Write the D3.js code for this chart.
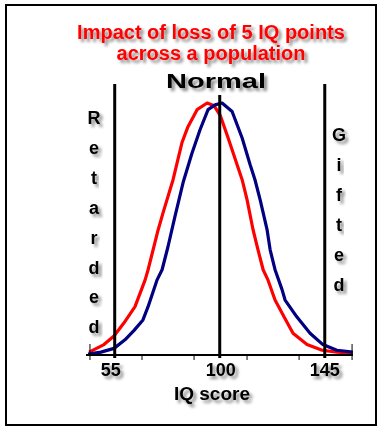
<!DOCTYPE html>
<html>
<head>
<meta charset="utf-8">
<script src="https://cdn.jsdelivr.net/npm/d3@7"></script>
<style>
  html, body { margin: 0; padding: 0; background: #fff; }
  svg { display: block; }
  text { font-family: "Liberation Sans", Arial, sans-serif; font-weight: bold; }
</style>
</head>
<body>
<script>
// ---- Data (frequency per 1000 people per IQ point) ----
const normalIQ   = [43.6, 49.1, 54.7, 59.4, 63.3, 67.1, 69.3, 73.1, 75.3, 77.8, 80.8, 84.3, 88.1, 91.6, 95.0, 98.0, 101.0, 105.3, 109.6, 113.0, 115.1, 117.3, 120.3, 121.6, 123.7, 126.7, 128.0, 133.1, 138.7, 144.2, 150.2, 157.0];
const normalFreq = [0.1, 0.3, 0.7, 1.6, 2.6, 3.7, 5.1, 7.9, 9.0, 11.4, 14.6, 18.2, 21.3, 23.8, 25.9, 26.4, 26.6, 25.7, 22.9, 20.1, 18.5, 16.4, 13.2, 11.1, 9.0, 6.9, 5.8, 4.0, 2.3, 1.1, 0.5, 0.3];

const loweredIQ   = [44.0, 50.4, 54.7, 59.0, 63.7, 68.0, 69.3, 73.6, 75.7, 80.0, 83.8, 86.4, 90.3, 94.6, 97.6, 100.2, 103.6, 109.6, 111.7, 114.3, 116.4, 118.6, 120.7, 123.7, 127.6, 131.4, 137.4, 143.9, 150.3, 157.0];
const loweredFreq = [0.3, 1.1, 2.0, 3.4, 5.1, 7.9, 9.0, 13.2, 15.0, 18.5, 22.4, 24.1, 25.9, 26.6, 26.3, 25.3, 22.9, 18.5, 16.4, 13.2, 11.1, 9.0, 7.9, 5.8, 4.0, 2.3, 1.1, 0.5, 0.3, 0.2];

const labelTicks = [55, 100, 145];
const minorTicks = [44.4, 66.7, 89.0, 111.7, 134.0, 156.7];
const endTicks   = [44.4, 156.7];

const titleLines = ["Impact of loss of 5 IQ points", "across a population"];
const leftWord  = "Retarded";
const rightWord = "Gifted";

// ---- Drawing ----
const W = 384, H = 433;
const svg = d3.select("body").append("svg").attr("width", W).attr("height", H);

const defs = svg.append("defs");
const f = defs.append("filter").attr("id", "shadow")
  .attr("x", "-20%").attr("y", "-30%").attr("width", "150%").attr("height", "180%");
f.append("feDropShadow").attr("dx", 3).attr("dy", 3).attr("stdDeviation", 1.5)
  .attr("flood-color", "#000").attr("flood-opacity", 0.45);

svg.append("rect").attr("width", W).attr("height", H).attr("fill", "#fff");
svg.append("rect").attr("x", 6).attr("y", 5).attr("width", 370).attr("height", 420)
  .attr("fill", "none").attr("stroke", "#000").attr("stroke-width", 2);

const x = d3.scaleLinear().domain([42.7, 157.1]).range([86, 353]);
const y = d3.scaleLinear().domain([0, 26.6]).range([355, 103]);

const line = d3.line().x(d => x(d[0])).y(d => y(d[1]));

const lowered = loweredIQ.map((v, i) => [v, loweredFreq[i]]);
const normal  = normalIQ.map((v, i) => [v, normalFreq[i]]);

svg.append("path").datum(lowered).attr("d", line)
  .attr("fill", "none").attr("stroke", "#ff0000").attr("stroke-width", 3.2).attr("stroke-linejoin", "round");
svg.append("path").datum(normal).attr("d", line)
  .attr("fill", "none").attr("stroke", "#000080").attr("stroke-width", 3.2).attr("stroke-linejoin", "round");

// axis line & ticks
svg.append("line").attr("x1", 86).attr("x2", 353).attr("y1", 355).attr("y2", 355)
  .attr("stroke", "#000").attr("stroke-width", 2);
svg.selectAll(".mt").data(minorTicks).enter().append("line")
  .attr("x1", d => x(d)).attr("x2", d => x(d)).attr("y1", 355).attr("y2", 360)
  .attr("stroke", "#000").attr("stroke-width", 1);
svg.selectAll(".et").data(endTicks).enter().append("line")
  .attr("x1", d => x(d)).attr("x2", d => x(d)).attr("y1", 344).attr("y2", 355)
  .attr("stroke", "#000").attr("stroke-width", 1);

// vertical reference lines
svg.selectAll(".vl").data(labelTicks).enter().append("line")
  .attr("x1", d => x(d)).attr("x2", d => x(d))
  .attr("y1", d => d === 100 ? 95 : 84).attr("y2", 358)
  .attr("stroke", "#000").attr("stroke-width", 3);

// tick labels
svg.selectAll(".tl").data(labelTicks).enter().append("text")
  .attr("x", d => x(d) + (d === 55 ? -4 : d === 100 ? 1 : 0)).attr("y", 376)
  .attr("text-anchor", "middle").attr("font-size", 18).attr("fill", "#000")
  .attr("filter", "url(#shadow)").text(d => d);

svg.append("text").attr("x", 212).attr("y", 400).attr("text-anchor", "middle")
  .attr("font-size", 19).attr("fill", "#000").attr("filter", "url(#shadow)").text("IQ score");

// title
svg.selectAll(".tt").data(titleLines).enter().append("text")
  .attr("x", 211).attr("y", (d, i) => 39 + i * 21)
  .attr("text-anchor", "middle").attr("font-size", 20).attr("fill", "#ff0000")
  .attr("filter", "url(#shadow)").text(d => d);

// Normal
svg.append("text").attr("x", 216).attr("y", 88).attr("text-anchor", "middle")
  .attr("font-size", 20).attr("fill", "#000")
  .attr("textLength", 100).attr("lengthAdjust", "spacingAndGlyphs")
  .attr("filter", "url(#shadow)").text("Normal");

// vertical words
svg.selectAll(".lw").data(leftWord.split("")).enter().append("text")
  .attr("x", 94).attr("y", (d, i) => 124 + i * 29.9)
  .attr("text-anchor", "middle").attr("font-size", 18).attr("fill", "#000")
  .attr("filter", "url(#shadow)").text(d => d);
svg.selectAll(".rw").data(rightWord.split("")).enter().append("text")
  .attr("x", 339).attr("y", (d, i) => 141 + i * 30)
  .attr("text-anchor", "middle").attr("font-size", 18).attr("fill", "#000")
  .attr("filter", "url(#shadow)").text(d => d);
</script>
</body>
</html>
